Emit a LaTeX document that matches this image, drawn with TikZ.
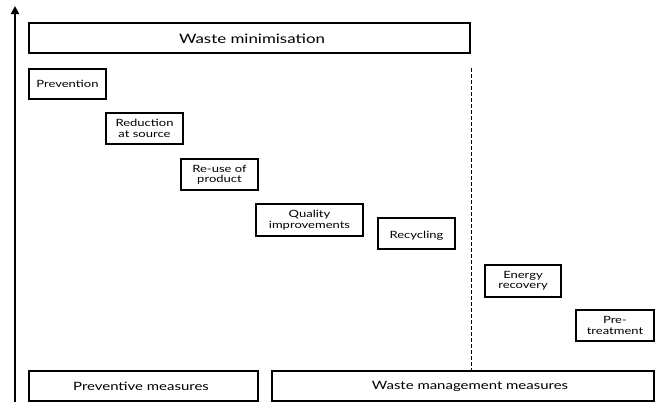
\documentclass[tikz,border=0pt]{standalone}
\usepackage{fontspec}
\setmainfont{Lato}[FakeStretch=1.3]
\usetikzlibrary{arrows.meta}
\begin{document}
\begin{tikzpicture}[x=1pt,y=-1pt,
  boxx/.style={draw=black,line width=1.2pt,fill=white,inner sep=0pt},
  small/.style={font=\fontsize{10}{10.5}\selectfont,align=center},
  big/.style={font=\fontsize{13}{14}\selectfont},
  mid/.style={font=\fontsize{11.5}{12}\selectfont}]
\useasboundingbox (0,0) rectangle (655,402);
% axis arrow
\coordinate (abot) at (15,402);
\coordinate (atop) at (15,6);
\draw[line width=2.6pt,-{Triangle[length=8pt,width=8pt]}] (abot) -- (atop);
% dashed divider
\coordinate (dtop) at (471,68);
\coordinate (dbot) at (471,372);
\draw[line width=1pt,dash pattern=on 4pt off 2pt] (dtop) -- (dbot);
% top box
\draw[boxx] (29,23) rectangle (470,53);
\node[big] (wm) at (252,38.5) {Waste minimisation};
% steps
\draw[boxx] (29,69) rectangle (106,99);
\node[small] (prev) at (67.5,84) {Prevention};
\draw[boxx] (106,113) rectangle (183,144);
\node[small] (red) at (144.5,128.5) {Reduction\\at source};
\draw[boxx] (181,159) rectangle (258,190);
\node[small] (reuse) at (219.5,174.5) {Re-use of\\product};
\draw[boxx] (256,204) rectangle (363,236);
\node[small] (qual) at (309.5,220) {Quality\\improvements};
\draw[boxx] (378,218) rectangle (455,249);
\node[small] (rec) at (416.5,236) {Recycling};
\draw[boxx] (485,265) rectangle (561,297);
\node[small] (en) at (523,281) {Energy\\recovery};
\draw[boxx] (576,310) rectangle (654,341);
\node[small] (pre) at (615,325.5) {Pre-\\treatment};
% bottom boxes
\draw[boxx] (29,371) rectangle (258,401);
\node[mid] (pm) at (141,386) {Preventive measures};
\draw[boxx] (272,371) rectangle (654,401);
\node[mid] (wmm) at (470,386) {Waste management measures};
\end{tikzpicture}
\end{document}
